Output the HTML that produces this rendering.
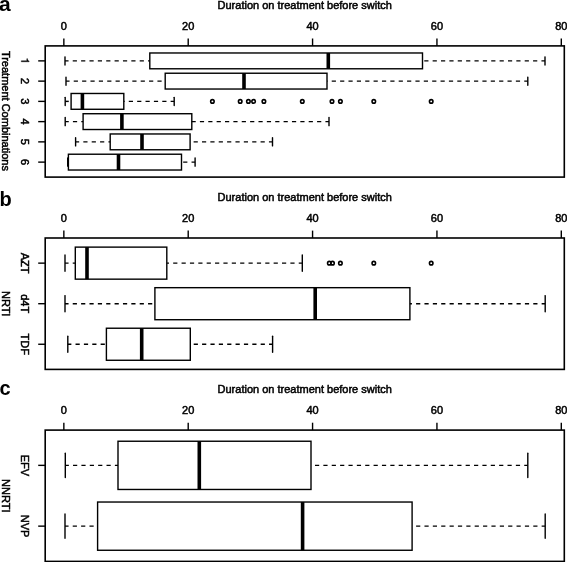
<!DOCTYPE html>
<html><head><meta charset="utf-8"><style>
html,body{margin:0;padding:0;background:#fff;}
body{width:567px;height:562px;overflow:hidden;}
svg{display:block;will-change:transform;}
.t{font-family:"Liberation Sans",sans-serif;font-size:11px;fill:#000;stroke:#000;stroke-width:0.5;}
.L{font-family:"Liberation Sans",sans-serif;font-size:20px;font-weight:bold;fill:#000;}
.w{stroke:#000;stroke-width:1.45;stroke-dasharray:4.2 4.17;stroke-dashoffset:0.64;}
.s{stroke:#000;stroke-width:1.4;stroke-linecap:round;}
.b{fill:none;stroke:#000;stroke-width:1.4;}
.m{stroke:#000;stroke-width:3.6;}
.o{fill:none;stroke:#000;stroke-width:1.6;}
</style></head><body>
<svg width="567" height="562" viewBox="0 0 567 562">
<rect x="45.2" y="45.9" width="519.1" height="131.2" fill="none" stroke="#000" stroke-width="1.6"/>
<line x1="63.85" y1="45.9" x2="63.85" y2="38.5" stroke="#000" stroke-width="1.4"/>
<text x="63.85" y="29.8" text-anchor="middle" class="t">0</text>
<line x1="188.21" y1="45.9" x2="188.21" y2="38.5" stroke="#000" stroke-width="1.4"/>
<text x="188.21" y="29.8" text-anchor="middle" class="t">20</text>
<line x1="312.57" y1="45.9" x2="312.57" y2="38.5" stroke="#000" stroke-width="1.4"/>
<text x="312.57" y="29.8" text-anchor="middle" class="t">40</text>
<line x1="436.94" y1="45.9" x2="436.94" y2="38.5" stroke="#000" stroke-width="1.4"/>
<text x="436.94" y="29.8" text-anchor="middle" class="t">60</text>
<line x1="561.3" y1="45.9" x2="561.3" y2="38.5" stroke="#000" stroke-width="1.4"/>
<text x="561.3" y="29.8" text-anchor="middle" class="t">80</text>
<text x="304.7" y="8.7" text-anchor="middle" class="t">Duration on treatment before switch</text>
<line x1="45.2" y1="60.88" x2="38.2" y2="60.88" stroke="#000" stroke-width="1.4"/>
<path transform="matrix(0,0.011,0.011,0,21.3,57.82)" d="M360 0L272 0L272 500L75 500L75 565C205 570 262 605 280 709L360 709Z" fill="#000" stroke="#000" stroke-width="36"/>
<line x1="45.2" y1="81.13" x2="38.2" y2="81.13" stroke="#000" stroke-width="1.4"/>
<text transform="translate(21.3,81.13) rotate(90)" text-anchor="middle" class="t">2</text>
<line x1="45.2" y1="101.38" x2="38.2" y2="101.38" stroke="#000" stroke-width="1.4"/>
<text transform="translate(21.3,101.38) rotate(90)" text-anchor="middle" class="t">3</text>
<line x1="45.2" y1="121.62" x2="38.2" y2="121.62" stroke="#000" stroke-width="1.4"/>
<text transform="translate(21.3,121.62) rotate(90)" text-anchor="middle" class="t">4</text>
<line x1="45.2" y1="141.87" x2="38.2" y2="141.87" stroke="#000" stroke-width="1.4"/>
<text transform="translate(21.3,141.87) rotate(90)" text-anchor="middle" class="t">5</text>
<line x1="45.2" y1="162.12" x2="38.2" y2="162.12" stroke="#000" stroke-width="1.4"/>
<text transform="translate(21.3,162.12) rotate(90)" text-anchor="middle" class="t">6</text>
<text transform="translate(2.3,110.9) rotate(90)" text-anchor="middle" class="t">Treatment Combinations</text>
<line x1="65" y1="60.88" x2="149.8" y2="60.88" class="w"/>
<line x1="545" y1="60.88" x2="422.5" y2="60.88" class="w"/>
<line x1="65" y1="56.83" x2="65" y2="64.93" class="s"/>
<line x1="545" y1="56.83" x2="545" y2="64.93" class="s"/>
<rect x="149.8" y="52.98" width="272.7" height="15.8" class="b"/>
<line x1="328.3" y1="52.98" x2="328.3" y2="68.78" class="m"/>
<line x1="66" y1="81.13" x2="165.2" y2="81.13" class="w"/>
<line x1="527.8" y1="81.13" x2="327" y2="81.13" class="w"/>
<line x1="66" y1="77.08" x2="66" y2="85.18" class="s"/>
<line x1="527.8" y1="77.08" x2="527.8" y2="85.18" class="s"/>
<rect x="165.2" y="73.23" width="161.8" height="15.8" class="b"/>
<line x1="244" y1="73.23" x2="244" y2="89.03" class="m"/>
<line x1="65.2" y1="101.38" x2="71.1" y2="101.38" class="w"/>
<line x1="174.2" y1="101.38" x2="123.8" y2="101.38" class="w"/>
<line x1="65.2" y1="97.33" x2="65.2" y2="105.43" class="s"/>
<line x1="174.2" y1="97.33" x2="174.2" y2="105.43" class="s"/>
<rect x="71.1" y="93.48" width="52.7" height="15.8" class="b"/>
<line x1="82.4" y1="93.48" x2="82.4" y2="109.28" class="m"/>
<circle cx="212.4" cy="101.38" r="1.75" class="o"/>
<circle cx="240.2" cy="101.38" r="1.75" class="o"/>
<circle cx="248.4" cy="101.38" r="1.75" class="o"/>
<circle cx="253.6" cy="101.38" r="1.75" class="o"/>
<circle cx="263.9" cy="101.38" r="1.75" class="o"/>
<circle cx="302.3" cy="101.38" r="1.75" class="o"/>
<circle cx="332" cy="101.38" r="1.75" class="o"/>
<circle cx="340.4" cy="101.38" r="1.75" class="o"/>
<circle cx="373.8" cy="101.38" r="1.75" class="o"/>
<circle cx="431.2" cy="101.38" r="1.75" class="o"/>
<line x1="65.2" y1="121.62" x2="83.1" y2="121.62" class="w"/>
<line x1="329" y1="121.62" x2="191.8" y2="121.62" class="w"/>
<line x1="65.2" y1="117.57" x2="65.2" y2="125.67" class="s"/>
<line x1="329" y1="117.57" x2="329" y2="125.67" class="s"/>
<rect x="83.1" y="113.72" width="108.7" height="15.8" class="b"/>
<line x1="121.9" y1="113.72" x2="121.9" y2="129.52" class="m"/>
<line x1="75.6" y1="141.87" x2="110.2" y2="141.87" class="w"/>
<line x1="272.5" y1="141.87" x2="190.1" y2="141.87" class="w"/>
<line x1="75.6" y1="137.82" x2="75.6" y2="145.92" class="s"/>
<line x1="272.5" y1="137.82" x2="272.5" y2="145.92" class="s"/>
<rect x="110.2" y="133.97" width="79.9" height="15.8" class="b"/>
<line x1="142" y1="133.97" x2="142" y2="149.77" class="m"/>
<line x1="67.7" y1="162.12" x2="68.4" y2="162.12" class="w"/>
<line x1="195.1" y1="162.12" x2="181.5" y2="162.12" class="w"/>
<line x1="67.7" y1="158.07" x2="67.7" y2="166.17" class="s"/>
<line x1="195.1" y1="158.07" x2="195.1" y2="166.17" class="s"/>
<rect x="68.4" y="154.22" width="113.1" height="15.8" class="b"/>
<line x1="118.5" y1="154.22" x2="118.5" y2="170.02" class="m"/>
<rect x="45.2" y="238" width="519.1" height="131.4" fill="none" stroke="#000" stroke-width="1.6"/>
<line x1="63.85" y1="238" x2="63.85" y2="230.6" stroke="#000" stroke-width="1.4"/>
<text x="63.85" y="221.95" text-anchor="middle" class="t">0</text>
<line x1="188.21" y1="238" x2="188.21" y2="230.6" stroke="#000" stroke-width="1.4"/>
<text x="188.21" y="221.95" text-anchor="middle" class="t">20</text>
<line x1="312.57" y1="238" x2="312.57" y2="230.6" stroke="#000" stroke-width="1.4"/>
<text x="312.57" y="221.95" text-anchor="middle" class="t">40</text>
<line x1="436.94" y1="238" x2="436.94" y2="230.6" stroke="#000" stroke-width="1.4"/>
<text x="436.94" y="221.95" text-anchor="middle" class="t">60</text>
<line x1="561.3" y1="238" x2="561.3" y2="230.6" stroke="#000" stroke-width="1.4"/>
<text x="561.3" y="221.95" text-anchor="middle" class="t">80</text>
<text x="304.7" y="200.85" text-anchor="middle" class="t">Duration on treatment before switch</text>
<line x1="45.2" y1="263.14" x2="38.2" y2="263.14" stroke="#000" stroke-width="1.4"/>
<text transform="translate(21.3,263.14) rotate(90)" text-anchor="middle" class="t">AZT</text>
<line x1="45.2" y1="303.7" x2="38.2" y2="303.7" stroke="#000" stroke-width="1.4"/>
<text transform="translate(21.3,303.7) rotate(90)" text-anchor="middle" class="t">d4T</text>
<line x1="45.2" y1="344.26" x2="38.2" y2="344.26" stroke="#000" stroke-width="1.4"/>
<text transform="translate(21.3,344.26) rotate(90)" text-anchor="middle" class="t">TDF</text>
<text transform="translate(2.3,303.7) rotate(90)" text-anchor="middle" class="t">NRTI</text>
<line x1="65" y1="263.14" x2="75.3" y2="263.14" class="w"/>
<line x1="302.3" y1="263.14" x2="166.8" y2="263.14" class="w"/>
<line x1="65" y1="255.03" x2="65" y2="271.26" class="s"/>
<line x1="302.3" y1="255.03" x2="302.3" y2="271.26" class="s"/>
<rect x="75.3" y="247.12" width="91.5" height="32.04" class="b"/>
<line x1="87" y1="247.12" x2="87" y2="279.17" class="m"/>
<circle cx="329.3" cy="263.14" r="1.75" class="o"/>
<circle cx="332.5" cy="263.14" r="1.75" class="o"/>
<circle cx="340.4" cy="263.14" r="1.75" class="o"/>
<circle cx="373.8" cy="263.14" r="1.75" class="o"/>
<circle cx="431.2" cy="263.14" r="1.75" class="o"/>
<line x1="65" y1="303.7" x2="154.9" y2="303.7" class="w"/>
<line x1="545.2" y1="303.7" x2="409.9" y2="303.7" class="w"/>
<line x1="65" y1="295.59" x2="65" y2="311.81" class="s"/>
<line x1="545.2" y1="295.59" x2="545.2" y2="311.81" class="s"/>
<rect x="154.9" y="287.68" width="255" height="32.04" class="b"/>
<line x1="315.2" y1="287.68" x2="315.2" y2="319.72" class="m"/>
<line x1="67.8" y1="344.26" x2="106.4" y2="344.26" class="w"/>
<line x1="272.6" y1="344.26" x2="190.3" y2="344.26" class="w"/>
<line x1="67.8" y1="336.14" x2="67.8" y2="352.37" class="s"/>
<line x1="272.6" y1="336.14" x2="272.6" y2="352.37" class="s"/>
<rect x="106.4" y="328.23" width="83.9" height="32.04" class="b"/>
<line x1="141.7" y1="328.23" x2="141.7" y2="360.28" class="m"/>
<rect x="45.2" y="430.1" width="519.1" height="131.3" fill="none" stroke="#000" stroke-width="1.6"/>
<line x1="63.85" y1="430.1" x2="63.85" y2="422.7" stroke="#000" stroke-width="1.4"/>
<text x="63.85" y="414.1" text-anchor="middle" class="t">0</text>
<line x1="188.21" y1="430.1" x2="188.21" y2="422.7" stroke="#000" stroke-width="1.4"/>
<text x="188.21" y="414.1" text-anchor="middle" class="t">20</text>
<line x1="312.57" y1="430.1" x2="312.57" y2="422.7" stroke="#000" stroke-width="1.4"/>
<text x="312.57" y="414.1" text-anchor="middle" class="t">40</text>
<line x1="436.94" y1="430.1" x2="436.94" y2="422.7" stroke="#000" stroke-width="1.4"/>
<text x="436.94" y="414.1" text-anchor="middle" class="t">60</text>
<line x1="561.3" y1="430.1" x2="561.3" y2="422.7" stroke="#000" stroke-width="1.4"/>
<text x="561.3" y="414.1" text-anchor="middle" class="t">80</text>
<text x="304.7" y="393" text-anchor="middle" class="t">Duration on treatment before switch</text>
<line x1="45.2" y1="465.36" x2="38.2" y2="465.36" stroke="#000" stroke-width="1.4"/>
<text transform="translate(21.3,465.36) rotate(90)" text-anchor="middle" class="t">EFV</text>
<line x1="45.2" y1="526.14" x2="38.2" y2="526.14" stroke="#000" stroke-width="1.4"/>
<text transform="translate(21.3,526.14) rotate(90)" text-anchor="middle" class="t">NVP</text>
<text transform="translate(2.3,495.75) rotate(90)" text-anchor="middle" class="t">NNRTI</text>
<line x1="65.3" y1="465.36" x2="118" y2="465.36" class="w"/>
<line x1="527.8" y1="465.36" x2="311" y2="465.36" class="w"/>
<line x1="65.3" y1="453.2" x2="65.3" y2="477.51" class="s"/>
<line x1="527.8" y1="453.2" x2="527.8" y2="477.51" class="s"/>
<rect x="118" y="441.24" width="193" height="48.23" class="b"/>
<line x1="199.3" y1="441.24" x2="199.3" y2="489.47" class="m"/>
<line x1="65" y1="526.14" x2="97.6" y2="526.14" class="w"/>
<line x1="545.2" y1="526.14" x2="412.1" y2="526.14" class="w"/>
<line x1="65" y1="513.99" x2="65" y2="538.3" class="s"/>
<line x1="545.2" y1="513.99" x2="545.2" y2="538.3" class="s"/>
<rect x="97.6" y="502.03" width="314.5" height="48.23" class="b"/>
<line x1="302.6" y1="502.03" x2="302.6" y2="550.26" class="m"/>
<text x="-1.0" y="10.6" class="L" style="font-size:21px">a</text>
<text x="-0.4" y="206.2" class="L">b</text>
<text x="-0.6" y="394.5" class="L">c</text>
</svg>
</body></html>
